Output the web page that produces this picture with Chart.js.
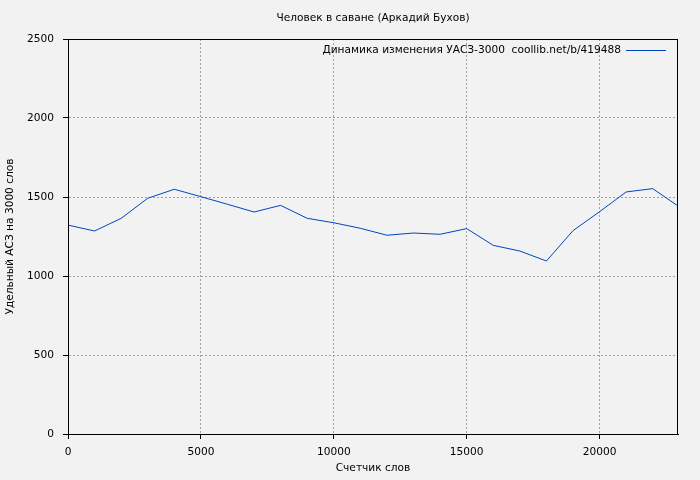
<!DOCTYPE html>
<html>
<head>
<meta charset="utf-8">
<script src="https://cdn.jsdelivr.net/npm/chart.js@4/dist/chart.umd.min.js"></script>
<style>
html,body{margin:0;padding:0;background:#f2f2f2;}
#wrap{width:700px;height:480px;}
</style>
</head>
<body>
<div id="wrap"><canvas id="c" width="700" height="480"></canvas></div>
<script>
const chartTitle = "Человек в саване (Аркадий Бухов)";
const seriesLabel = "Динамика изменения УАСЗ-3000  coollib.net/b/419488";
const xTitle = "Счетчик слов";
const yTitle = "Удельный АСЗ на 3000 слов";
const wordCounts = [0,1000,2000,3000,4000,5000,6000,7000,8000,9000,10000,11000,12000,13000,14000,15000,16000,17000,18000,19000,20000,21000,22000,22950];
const uasValues = [1322,1285,1365,1492,1549,1502,1454,1405,1447,1365,1337,1302,1258,1272,1264,1300,1194,1158,1095,1287,1407,1532,1553,1443];
const xTicks = [0,5000,10000,15000,20000];
const yTicks = [0,500,1000,1500,2000,2500];
const xMax = 22950;

const FS = 10.6;
const FONT = {family: "'DejaVu Sans'", size: FS};
const lineColor = '#0046be';

const framePlugin = {
  id: 'frame',
  beforeDraw(chart) {
    const ctx = chart.ctx;
    ctx.save();
    ctx.fillStyle = '#f2f2f2';
    ctx.fillRect(0, 0, chart.width, chart.height);
    ctx.restore();
  },
  afterDraw(chart) {
    const {ctx, chartArea: a} = chart;
    ctx.save();
    ctx.strokeStyle = '#000';
    ctx.lineWidth = 1;
    ctx.setLineDash([]);
    ctx.strokeRect(Math.round(a.left) + 0.5, Math.round(a.top) + 0.5, Math.round(a.right - a.left) - 1, Math.round(a.bottom - a.top));
    ctx.font = FS + "px 'DejaVu Sans'";
    ctx.fillStyle = '#000';
    ctx.textAlign = 'center';
    ctx.textBaseline = 'middle';
    ctx.fillText(chartTitle, (a.left + a.right) / 2, 18);
    // legend
    const lineX1 = a.right - 12, lineX0 = a.right - 52;
    const ty = a.top + 11;
    const tx = lineX0 - 5;
    ctx.textAlign = 'right';
    ctx.fillText(seriesLabel, tx, ty);
    ctx.strokeStyle = lineColor;
    ctx.beginPath();
    ctx.moveTo(lineX0, Math.round(ty) + 0.5);
    ctx.lineTo(lineX1, Math.round(ty) + 0.5);
    ctx.stroke();
    ctx.restore();
  }
};

new Chart(document.getElementById('c'), {
  type: 'line',
  data: {
    datasets: [{
      label: seriesLabel,
      data: wordCounts.map((x, i) => ({x: x, y: uasValues[i]})),
      borderColor: lineColor,
      borderWidth: 1,
      pointRadius: 0,
      fill: false,
      tension: 0
    }]
  },
  options: {
    responsive: false,
    animation: false,
    devicePixelRatio: 1,
    layout: {padding: {left: 0, right: 22, top: 39, bottom: 0}},
    plugins: {
      legend: {display: false},
      tooltip: {enabled: false},
      title: {display: false}
    },
    scales: {
      x: {
        type: 'linear',
        min: 0,
        max: xMax,
        afterBuildTicks: s => { s.ticks = xTicks.map(v => ({value: v})); },
        afterFit: s => { s.height = 46; },
        ticks: {color: '#000', font: FONT, padding: 7, maxRotation: 0, autoSkip: false, callback: v => String(v)},
        grid: {
          color: ctx => (ctx.tick && ctx.tick.value === 0) ? 'rgba(0,0,0,0)' : '#a0a0a0',
          tickColor: '#000',
          tickBorderDash: [],
          tickLength: 5
        },
        border: {display: true, color: '#000', width: 1, dash: [2, 2]},
        title: {display: true, text: xTitle, color: '#000', font: FONT, padding: {top: 0, bottom: 5}}
      },
      y: {
        type: 'linear',
        min: 0,
        max: 2500,
        afterBuildTicks: s => { s.ticks = yTicks.map(v => ({value: v})); },
        afterFit: s => { s.width = 68; },
        ticks: {color: '#000', font: FONT, padding: 9, autoSkip: false, callback: v => String(v)},
        grid: {
          color: ctx => (ctx.tick && (ctx.tick.value === 0 || ctx.tick.value === 2500)) ? 'rgba(0,0,0,0)' : '#a0a0a0',
          tickColor: '#000',
          tickBorderDash: [],
          tickLength: 5
        },
        border: {display: true, color: '#000', width: 1, dash: [2, 2]},
        title: {display: true, text: yTitle, color: '#000', font: FONT, padding: {top: 4, bottom: 0}}
      }
    }
  },
  plugins: [framePlugin]
});
</script>
</body>
</html>
